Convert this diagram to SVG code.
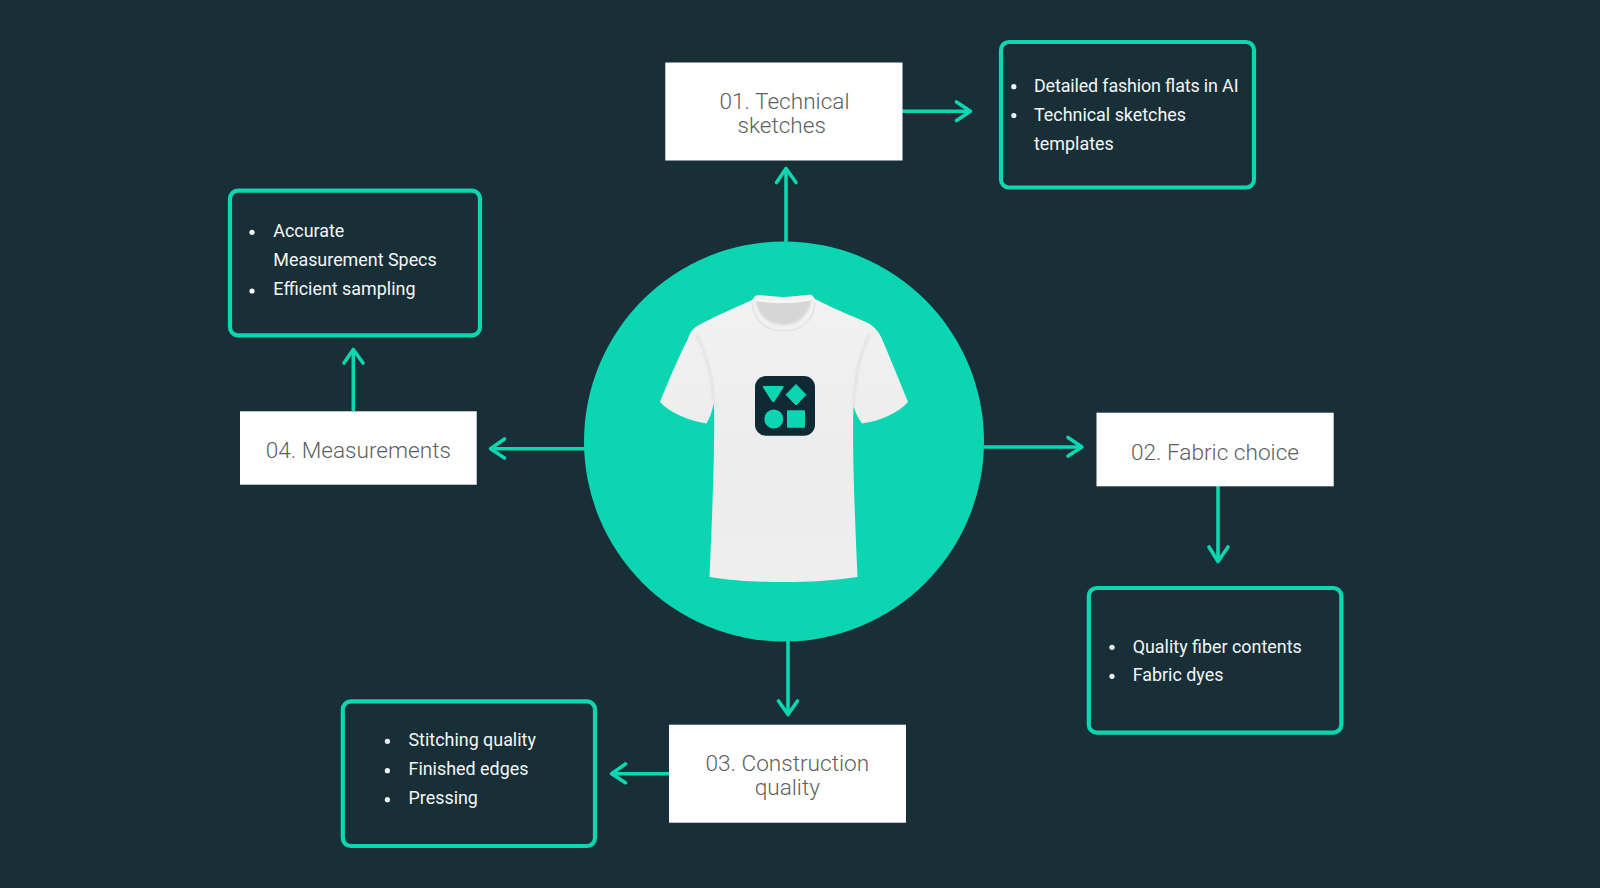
<svg xmlns="http://www.w3.org/2000/svg" width="1600" height="888" viewBox="0 0 1600 888">
<defs>
<style>
.bg{fill:#182f38}
.title{fill:#fff}
.outline{fill:none;stroke:#0ed6b0;stroke-width:4.200}
.conn{fill:none;stroke:#0ed6b0;stroke-width:3.600;stroke-linecap:round;stroke-linejoin:round}
.stem{stroke-linecap:butt}
.tt{font-family:"Roboto","Liberation Sans",sans-serif;font-size:22.600px;fill:#5c5f60;text-anchor:middle;font-weight:300}
.bt{font-family:"Roboto","Liberation Sans",sans-serif;font-size:17.900px;fill:#f4f6f6;font-weight:400}
.dot{fill:#f4f6f6}
.mint{fill:#0bd6b1}
.ink{fill:#0f2a35}
</style>
<linearGradient id="cloth" x1="0" y1="0" x2="0" y2="1"><stop offset="0" stop-color="#f2f2f2"/><stop offset="0.6" stop-color="#ececec"/><stop offset="1" stop-color="#eeeeee"/></linearGradient>
<filter id="soft1" x="-30%" y="-30%" width="160%" height="160%"><feGaussianBlur stdDeviation="1"/></filter>
</defs>
<rect class="bg" width="1600" height="888"/>
<g id="connectors">
<path class="conn stem" d="M786 243V169"/><path class="conn" d="M776.500 182.500L786 168.500L796 182.500"/>
<path class="conn stem" d="M902 111.300H970"/><path class="conn" d="M956.500 102L970.500 111.300L956.500 120.500"/>
<path class="conn stem" d="M984 447H1082"/><path class="conn" d="M1068 437.500L1082 447L1068 456"/>
<path class="conn stem" d="M1218 486V561"/><path class="conn" d="M1209 547L1218 561.500L1228 547"/>
<path class="conn stem" d="M788 640V714"/><path class="conn" d="M778.500 701L788 714.500L797.500 701"/>
<path class="conn stem" d="M669 773.700H612"/><path class="conn" d="M625.500 764L611.500 773.700L625.500 782.700"/>
<path class="conn stem" d="M585 448.700H491"/><path class="conn" d="M504.500 439L490.500 448.700L504.500 458"/>
<path class="conn stem" d="M353.300 411V350"/><path class="conn" d="M344 363L353.300 349.500L363 363"/>
</g>
<g id="hub">
<circle class="mint" cx="784" cy="441.500" r="200"/>
<path d="M755 296C758 294 764 296 783 297C803 296 808 294 812 295L815 299C832 308 852 316 868 323C875 327 879 332 882 339C890 358 900 382 908 402C898 413 880 421 862 423.500C858 418 855 412 853.500 406C852 450 855 520 857.500 577C830 581 810 582 783 582C755 582 735 581 709.500 577C712 520 715 450 714 403C712 411 710 418 706.500 423.500C690 421 670 413 660 402C668 382 678 358 688 339C690 332 693 328 699 325C715 316 735 308 752 300Z" fill="url(#cloth)"/>
<path d="M756 300C764 303 803 303 811 299C811 311 800 325 783 325C767 325 756 312 756 300Z" fill="#d6d6d6" filter="url(#soft1)"/>
<path d="M752 303C754 322 768 331 783 331C800 331 814 322 815 302" fill="none" stroke="#e2e2e2" stroke-width="1.500"/>
<path d="M755 299C765 303 802 303 812 298" fill="none" stroke="#f8f8f8" stroke-width="2"/>
<path d="M696 334C706 352 712 376 714 403" fill="none" stroke="#dddddd" stroke-width="2" filter="url(#soft1)"/>
<path d="M870 334C860 352 855 378 853.500 406" fill="none" stroke="#dddddd" stroke-width="2" filter="url(#soft1)"/>
<rect class="ink" x="755" y="376" width="60" height="59.700" rx="11"/>
<path class="mint" d="M764 386H782.500Q784 386 783.500 387.500L774.500 401.500Q773.300 403 772 401.500L763 387.500Q762.500 386 764 386Z"/>
<path class="mint" d="M796 384.500L806 394.700L796 405L786 394.700Z" stroke="#0bd6b1" stroke-width="1" stroke-linejoin="round"/>
<circle class="mint" cx="773.800" cy="419" r="9.500"/>
<rect class="mint" x="787" y="410.300" width="18" height="17.500" rx="1"/>
</g>
<g id="node-01">
<rect class="title" x="665.300" y="62.500" width="237.200" height="98"/>
<text class="tt"><tspan x="784.500" y="109">01. Technical</tspan><tspan x="781.700" y="133">sketches</tspan></text>
</g>
<g id="list-01">
<rect class="outline" x="1001" y="42" width="253" height="145.500" rx="8"/>
<circle class="dot" cx="1013.800" cy="86.700" r="2.600"/><circle class="dot" cx="1013.800" cy="115.500" r="2.600"/>
<text class="bt"><tspan x="1034" y="92.300" textLength="204.500">Detailed fashion flats in AI</tspan><tspan x="1034" y="121">Technical sketches</tspan><tspan x="1034" y="150">templates</tspan></text>
</g>
<g id="node-02">
<rect class="title" x="1096.500" y="412.700" width="237.200" height="73.600"/>
<text class="tt"><tspan x="1215" y="459.800">02. Fabric choice</tspan></text>
</g>
<g id="list-02">
<rect class="outline" x="1088.800" y="588" width="252.500" height="144.700" rx="8"/>
<circle class="dot" cx="1112" cy="647.300" r="2.600"/><circle class="dot" cx="1112" cy="676.300" r="2.600"/>
<text class="bt"><tspan x="1132.700" y="652.500">Quality fiber contents</tspan><tspan x="1132.700" y="681.300">Fabric dyes</tspan></text>
</g>
<g id="node-03">
<rect class="title" x="669" y="724.700" width="237" height="98"/>
<text class="tt"><tspan x="787.300" y="771">03. Construction</tspan><tspan x="787.300" y="795">quality</tspan></text>
</g>
<g id="list-03">
<rect class="outline" x="342.800" y="701.300" width="252.200" height="144.700" rx="8"/>
<circle class="dot" cx="387.400" cy="741.300" r="2.600"/><circle class="dot" cx="387.400" cy="770.700" r="2.600"/><circle class="dot" cx="387.400" cy="799.700" r="2.600"/>
<text class="bt"><tspan x="408.500" y="746">Stitching quality</tspan><tspan x="408.500" y="775">Finished edges</tspan><tspan x="408.500" y="804">Pressing</tspan></text>
</g>
<g id="node-04">
<rect class="title" x="240" y="411.300" width="236.700" height="73.400"/>
<text class="tt"><tspan x="358.300" y="457.800">04. Measurements</tspan></text>
</g>
<g id="list-04">
<rect class="outline" x="230" y="190.700" width="250" height="144.600" rx="8"/>
<circle class="dot" cx="252" cy="232.300" r="2.600"/><circle class="dot" cx="252" cy="291" r="2.600"/>
<text class="bt"><tspan x="273.300" y="237.300">Accurate</tspan><tspan x="273.300" y="266.300">Measurement Specs</tspan><tspan x="273.300" y="295.300">Efficient sampling</tspan></text>
</g>
</svg>
